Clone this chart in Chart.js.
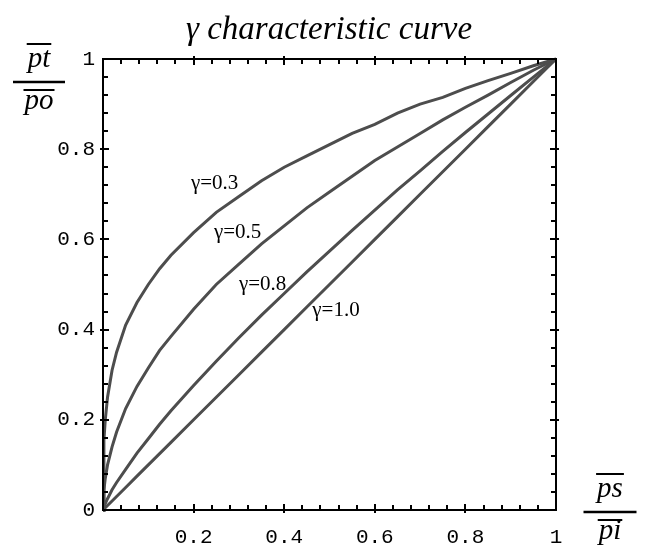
<!DOCTYPE html>
<html>
<head>
<meta charset="utf-8">
<script src="https://cdn.jsdelivr.net/npm/chart.js@4"></script>
<style>
  html, body { margin: 0; padding: 0; background: #fff; }
  #wrap { width: 651px; height: 552px; }
</style>
</head>
<body>
<div id="wrap"><canvas id="gammaChart"></canvas></div>
<script>
// ps/pi values read along the horizontal axis
const psPi = [0, 0.002, 0.005, 0.01, 0.02, 0.03, 0.05, 0.075, 0.1, 0.125, 0.15, 0.2, 0.25, 0.3, 0.35, 0.4, 0.45, 0.5, 0.55, 0.6, 0.65, 0.7, 0.75, 0.8, 0.85, 0.9, 0.95, 1];

// pt/po for each gamma curve
const gamma03 = [0, 0.155, 0.20, 0.25, 0.31, 0.35, 0.41, 0.46, 0.50, 0.535, 0.565, 0.615, 0.66, 0.695, 0.73, 0.76, 0.785, 0.81, 0.835, 0.855, 0.88, 0.90, 0.915, 0.935, 0.952, 0.968, 0.985, 1];
const gamma05 = [0, 0.045, 0.07, 0.10, 0.14, 0.173, 0.225, 0.274, 0.315, 0.354, 0.385, 0.445, 0.50, 0.545, 0.59, 0.63, 0.67, 0.705, 0.74, 0.775, 0.805, 0.835, 0.865, 0.893, 0.92, 0.948, 0.975, 1];
const gamma08 = [0, 0.007, 0.014, 0.025, 0.045, 0.061, 0.09, 0.126, 0.158, 0.19, 0.22, 0.276, 0.33, 0.382, 0.432, 0.48, 0.528, 0.574, 0.62, 0.665, 0.71, 0.752, 0.795, 0.837, 0.878, 0.919, 0.96, 1];
const gamma10 = [0, 0.002, 0.005, 0.01, 0.02, 0.03, 0.05, 0.075, 0.1, 0.125, 0.15, 0.2, 0.25, 0.3, 0.35, 0.4, 0.45, 0.5, 0.55, 0.6, 0.65, 0.7, 0.75, 0.8, 0.85, 0.9, 0.95, 1];

const curveNames = ['γ=0.3', 'γ=0.5', 'γ=0.8', 'γ=1.0'];
const curveValues = [gamma03, gamma05, gamma08, gamma10];

// where each curve name sits, in data units (left edge, baseline)
const curveLabelAt = [[0.194, 0.712], [0.245, 0.603], [0.300, 0.488], [0.462, 0.430]];

const lineColor = '#4d4d4d';

function toPoints(ys) {
    return psPi.map((x, i) => ({ x: x, y: ys[i] }));
}

function fmt(v) {
    if (Math.abs(v) < 1e-9) return '0';
    if (Math.abs(v - 1) < 1e-9) return '1';
    return v.toFixed(1);
}

// frame, inward ticks, title, axis fractions and curve names
const decor = {
    id: 'decor',
    afterDraw(chart) {
        const ctx = chart.ctx;
        const a = chart.chartArea;
        const xs = chart.scales.x, ys = chart.scales.y;
        ctx.save();

        // ticks every 0.04, longer ones every 0.2
        ctx.strokeStyle = '#000';
        ctx.lineWidth = 2;
        for (let k = 1; k < 25; k++) {
            const v = k * 0.04;
            const major = k % 5 === 0;
            const inLen = major ? 6 : 5;
            const outLen = major ? 3 : 0;
            const px = Math.round(xs.getPixelForValue(v));
            const py = Math.round(ys.getPixelForValue(v));
            ctx.beginPath();
            ctx.moveTo(px, a.bottom + outLen); ctx.lineTo(px, a.bottom - inLen);
            ctx.moveTo(px, a.top - outLen); ctx.lineTo(px, a.top + inLen);
            ctx.moveTo(a.left - outLen, py); ctx.lineTo(a.left + inLen, py);
            ctx.moveTo(a.right + outLen, py); ctx.lineTo(a.right - inLen, py);
            ctx.stroke();
        }
        ctx.strokeRect(a.left, a.top, a.right - a.left, a.bottom - a.top);

        // title
        ctx.fillStyle = '#000';
        ctx.textAlign = 'center';
        ctx.textBaseline = 'alphabetic';
        ctx.font = 'italic 33px "Liberation Serif", serif';
        ctx.fillText('γ characteristic curve', 329, 39);

        // fraction labels
        function fraction(top, bottom, cx, barY, barW) {
            ctx.font = 'italic 29px "Liberation Serif", serif';
            ctx.textAlign = 'center';
            ctx.lineWidth = 2.5;
            ctx.beginPath();
            ctx.moveTo(cx - barW / 2, barY); ctx.lineTo(cx + barW / 2, barY);
            ctx.stroke();
            const wt = ctx.measureText(top).width;
            const wb = ctx.measureText(bottom).width;
            ctx.fillText(top, cx, barY - 15);
            ctx.fillText(bottom, cx, barY + 27);
            ctx.lineWidth = 2;
            ctx.beginPath();
            ctx.moveTo(cx - wt / 2 - 1, barY - 38); ctx.lineTo(cx + wt / 2 + 1, barY - 38);
            ctx.moveTo(cx - wb / 2 - 1, barY + 8); ctx.lineTo(cx + wb / 2 + 1, barY + 8);
            ctx.stroke();
        }
        fraction('pt', 'po', 39, 82, 52);
        fraction('ps', 'pi', 610, 512, 53);

        // curve names
        ctx.font = '21px "Liberation Serif", serif';
        ctx.textAlign = 'left';
        curveNames.forEach((name, i) => {
            const p = curveLabelAt[i];
            ctx.fillText(name, xs.getPixelForValue(p[0]), ys.getPixelForValue(p[1]));
        });
        ctx.restore();
    }
};

const ctx = document.getElementById('gammaChart');

new Chart(ctx, {
    type: 'line',
    data: {
        datasets: curveValues.map((vals, i) => ({
            label: curveNames[i],
            data: toPoints(vals),
            borderColor: lineColor,
            borderWidth: 3,
            pointRadius: 0,
            tension: 0,
            fill: false
        }))
    },
    options: {
        responsive: true,
        maintainAspectRatio: false,
        animation: false,
        clip: false,
        layout: { padding: { left: 0, top: 59, right: 95, bottom: 0 } },
        plugins: { legend: { display: false }, tooltip: { enabled: false }, title: { display: false } },
        scales: {
            x: {
                type: 'linear',
                min: 0, max: 1,
                grid: { display: false, drawTicks: false },
                border: { display: false },
                afterFit: s => { s.height = 42; },
                ticks: {
                    stepSize: 0.2,
                    padding: 15,
                    color: '#000',
                    font: { family: '"Liberation Mono", monospace', size: 21 },
                    callback: v => (Math.abs(v) < 1e-9 ? '' : fmt(v))
                }
            },
            y: {
                min: 0, max: 1,
                grid: { display: false, drawTicks: false },
                border: { display: false },
                afterFit: s => { s.width = 103; },
                ticks: {
                    stepSize: 0.2,
                    padding: 8,
                    color: '#000',
                    font: { family: '"Liberation Mono", monospace', size: 21 },
                    callback: v => fmt(v)
                }
            }
        }
    },
    plugins: [decor]
});
</script>
</body>
</html>
